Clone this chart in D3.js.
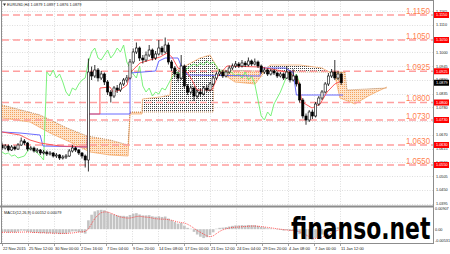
<!DOCTYPE html>
<html lang="en">
<head>
<meta charset="utf-8">
<title>EURUSD H4</title>
<script src="https://cdn.jsdelivr.net/npm/d3@7"></script>
<style>
  body{margin:0;background:#fff;}
  svg{display:block;font-family:"Liberation Sans",Arial,sans-serif;}
</style>
</head>
<body>
<div id="chart"></div>
<script>
// candles, each one = 2 H4 bars
var opens = [1.0630,1.0618,1.0626,1.0610,1.0622,1.0614,1.0630,1.0646,1.0638,1.0614,1.0618,1.0606,1.0610,1.0598,1.0602,1.0594,1.0598,1.0586,1.0590,1.0578,
  1.0582,1.0586,1.0606,1.0618,1.0610,1.0598,1.0586,1.0570,1.0922,1.0906,1.0930,1.0898,1.0914,1.0882,1.0842,1.0826,1.0858,1.0850,1.0874,1.0890,
  1.0898,1.0962,1.1002,1.1018,1.0978,1.0970,1.0990,1.1010,1.0978,1.0994,1.1018,1.1002,1.1030,1.0962,1.0938,1.0914,1.0898,1.0946,1.0866,1.0842,
  1.0858,1.0826,1.0842,1.0834,1.0858,1.0850,1.0874,1.0898,1.0914,1.0922,1.0906,1.0922,1.0938,1.0946,1.0954,1.0946,1.0958,1.0950,1.0966,1.0954,
  1.0962,1.0946,1.0922,1.0930,1.0914,1.0926,1.0918,1.0906,1.0914,1.0898,1.0922,1.0890,1.0906,1.0874,1.0810,1.0746,1.0730,1.0762,1.0746,1.0794,
  1.0818,1.0842,1.0874,1.0906,1.0922,1.0898,1.0914]
var closes = [1.0618,1.0626,1.0610,1.0622,1.0614,1.0630,1.0646,1.0638,1.0614,1.0618,1.0606,1.0610,1.0598,1.0602,1.0594,1.0598,1.0586,1.0590,1.0578,1.0582,
  1.0586,1.0606,1.0618,1.0610,1.0598,1.0586,1.0570,1.0922,1.0906,1.0930,1.0898,1.0914,1.0882,1.0842,1.0826,1.0858,1.0850,1.0874,1.0890,1.0898,
  1.0962,1.1002,1.1018,1.0978,1.0970,1.0990,1.1010,1.0978,1.0994,1.1018,1.1002,1.1030,1.0962,1.0938,1.0914,1.0898,1.0946,1.0866,1.0842,1.0858,
  1.0826,1.0842,1.0834,1.0858,1.0850,1.0874,1.0898,1.0914,1.0922,1.0906,1.0922,1.0938,1.0946,1.0954,1.0946,1.0958,1.0950,1.0966,1.0954,1.0962,
  1.0946,1.0922,1.0930,1.0914,1.0926,1.0918,1.0906,1.0914,1.0898,1.0922,1.0890,1.0906,1.0874,1.0810,1.0746,1.0730,1.0762,1.0746,1.0794,1.0818,
  1.0842,1.0874,1.0906,1.0922,1.0898,1.0914,1.0879]
var highs = [1.0640,1.0634,1.0632,1.0630,1.0628,1.0638,1.0660,1.0654,1.0642,1.0626,1.0624,1.0618,1.0614,1.0610,1.0608,1.0606,1.0602,1.0598,1.0594,1.0590,
  1.0594,1.0614,1.0630,1.0624,1.0614,1.0602,1.0592,1.0976,1.0944,1.0950,1.0938,1.0926,1.0920,1.0890,1.0850,1.0866,1.0870,1.0882,1.0898,1.0910,
  1.0974,1.1016,1.1040,1.1024,1.0990,1.1004,1.1030,1.1016,1.1006,1.1050,1.1026,1.1060,1.1040,1.0970,1.0946,1.0924,1.0990,1.0952,1.0874,1.0868,
  1.0864,1.0852,1.0856,1.0866,1.0870,1.0882,1.0906,1.0924,1.0934,1.0930,1.0930,1.0948,1.0956,1.0966,1.0962,1.0970,1.0966,1.0980,1.0972,1.0976,
  1.0968,1.0952,1.0940,1.0936,1.0934,1.0932,1.0924,1.0922,1.0920,1.0946,1.0928,1.0932,1.0912,1.0880,1.0818,1.0756,1.0770,1.0772,1.0802,1.0826,
  1.0850,1.0882,1.0918,1.0934,1.0970,1.0926,1.0920]
var lows = [1.0610,1.0612,1.0604,1.0606,1.0608,1.0610,1.0626,1.0630,1.0606,1.0608,1.0600,1.0598,1.0590,1.0592,1.0586,1.0588,1.0580,1.0578,1.0570,1.0572,
  1.0574,1.0582,1.0600,1.0602,1.0590,1.0576,1.0540,1.0524,1.0890,1.0898,1.0884,1.0890,1.0870,1.0830,1.0800,1.0818,1.0838,1.0842,1.0866,1.0880,
  1.0892,1.0954,1.0994,1.0966,1.0956,1.0962,1.0982,1.0968,1.0970,1.0988,1.0990,1.0996,1.0952,1.0926,1.0900,1.0884,1.0890,1.0856,1.0830,1.0834,
  1.0806,1.0816,1.0822,1.0828,1.0842,1.0844,1.0866,1.0890,1.0906,1.0898,1.0900,1.0914,1.0930,1.0938,1.0938,1.0940,1.0942,1.0944,1.0946,1.0948,
  1.0938,1.0914,1.0914,1.0906,1.0908,1.0910,1.0898,1.0900,1.0890,1.0894,1.0880,1.0884,1.0864,1.0800,1.0736,1.0711,1.0722,1.0734,1.0740,1.0786,
  1.0810,1.0836,1.0866,1.0898,1.0890,1.0890,1.0870]

// MACD main (histogram) and signal, one per candle
var macdMain = [-0.0014,-0.0012,-0.0016,-0.0013,-0.0015,-0.0011,-0.0006,-0.0007,-0.0012,-0.0013,-0.0016,-0.0015,-0.0018,-0.0017,-0.0019,-0.0018,-0.0020,-0.0019,-0.0022,-0.0021,
  -0.0020,-0.0015,-0.0010,-0.0010,-0.0013,-0.0016,-0.0020,0.0040,0.0065,0.0080,0.0085,0.0087,0.0085,0.0078,0.0070,0.0066,0.0062,0.0060,0.0060,0.0058,
  0.0064,0.0070,0.0072,0.0066,0.0062,0.0062,0.0063,0.0058,0.0056,0.0058,0.0055,0.0057,0.0048,0.0040,0.0032,0.0025,0.0028,0.0016,0.0006,0.0002,
  -0.0012,-0.0024,-0.0034,-0.0040,-0.0036,-0.0026,-0.0014,0.0002,0.0006,0.0007,0.0009,0.0012,0.0015,0.0017,0.0017,0.0018,0.0017,0.0019,0.0018,0.0018,
  0.0015,0.0010,0.0008,0.0004,0.0003,0.0001,-0.0002,-0.0003,-0.0006,-0.0004,-0.0008,-0.0008,-0.0012,-0.0022,-0.0036,-0.0046,-0.0046,-0.0048,-0.0040,-0.0032,
  -0.0024,-0.0014,-0.0004,0.0004,0.0005,0.0009,0.0008]
var macdSignal = [-0.0014,-0.0014,-0.0014,-0.0014,-0.0014,-0.0014,-0.0013,-0.0013,-0.0013,-0.0014,-0.0015,-0.0015,-0.0016,-0.0016,-0.0017,-0.0017,-0.0018,-0.0018,-0.0019,-0.0019,
  -0.0019,-0.0018,-0.0017,-0.0015,-0.0013,-0.0012,-0.0010,0.0000,0.0025,0.0048,0.0064,0.0074,0.0078,0.0077,0.0072,0.0066,0.0060,0.0055,0.0052,0.0050,
  0.0050,0.0053,0.0057,0.0058,0.0056,0.0054,0.0053,0.0050,0.0047,0.0046,0.0045,0.0045,0.0043,0.0040,0.0036,0.0032,0.0030,0.0028,0.0022,0.0014,
  0.0004,-0.0006,-0.0014,-0.0022,-0.0030,-0.0034,-0.0030,-0.0020,-0.0010,-0.0003,0.0002,0.0005,0.0008,0.0009,0.0010,0.0011,0.0012,0.0013,0.0014,0.0014,
  0.0013,0.0012,0.0010,0.0008,0.0006,0.0004,0.0002,0.0000,-0.0002,-0.0004,-0.0005,-0.0006,-0.0008,-0.0012,-0.0018,-0.0026,-0.0034,-0.0040,-0.0042,-0.0040,
  -0.0036,-0.0030,-0.0024,-0.0017,-0.0010,-0.0005,0.0000]

// ichimoku lines as [candle index, price] knots
var tenkan = [[0,1.0682],[5.6,1.0670],[8.75,1.0650],[11.9,1.0638],[18.1,1.0626],[26.6,1.0622],[26.9,1.0754],[30.6,1.0754],[30.6,1.0858],[33.75,1.0862],
  [34.7,1.0842],[36.9,1.0850],[39.1,1.0870],[40,1.0918],[43.1,1.0958],[46.25,1.0970],[49.4,1.0982],[51.6,1.0998],[53.1,1.0982],[55,1.0938],
  [57.8,1.0922],[59.4,1.0890],[60.9,1.0850],[65.6,1.0850],[67.5,1.0906],[70.3,1.0946],[80.6,1.0942],[85.9,1.0930],[90,1.0918],[92.5,1.0890],
  [93.75,1.0802],[96.9,1.0778],[99.4,1.0794],[101.6,1.0842],[104,1.0874],[106.6,1.0890]]
var kijun = [[0,1.0682],[5.6,1.0678],[11.9,1.0670],[12.8,1.0626],[26.6,1.0622],[26.9,1.0754],[40,1.0754],[40,1.0918],[48,1.0926],[49,1.0966],
  [51,1.0978],[55,1.0978],[56,1.0946],[58,1.0910],[80.6,1.0906],[81,1.0938],[88.5,1.0938],[91,1.0920],[92,1.0830],[106.6,1.0830]]
var spanA = [[0,1.0738],[8.75,1.0722],[15,1.0678],[21.25,1.0642],[27.5,1.0602],[33.75,1.0590],[39.4,1.0586],[40,1.0754],[43.75,1.0754],[43.9,1.0814],
  [49.4,1.0822],[52.5,1.0830],[53.1,1.0922],[57.2,1.0946],[61.9,1.0978],[65,1.0990],[66.25,1.0962],[68.1,1.0922],[72.8,1.0882],[79.1,1.0874],
  [83.75,1.0950],[93.1,1.0950],[100,1.0938],[104,1.0910],[105.6,1.0818],[110.3,1.0794],[115,1.0830],[120.3,1.0862]]
var spanB = [[0,1.0790],[11.9,1.0750],[20.3,1.0698],[26.6,1.0666],[33.75,1.0650],[39.4,1.0630],[40,1.0762],[66,1.0762],[66.25,1.0930],[93.1,1.0922],
  [107.2,1.0922],[107.8,1.0850],[120.3,1.0858]]
var chikouShift = 13

var levels = [1.1150,1.1050,1.0925,1.0800,1.0730,1.0630,1.0550]
var priceTicks = [1.1165,1.1110,1.1055,1.1000,1.0945,1.0890,1.0835,1.0780,1.0725,1.0670,1.0615,1.0560,1.0505,1.0450,1.0395]
var lastPrice = 1.0879
var macdTicks = ["0.00907","0.00","-0.00531"]
var macdTickValues = [0.00907,0,-0.00531]
var timeLabels = ["22 Nov 2015","25 Nov 12:00","30 Nov 00:00","2 Dec 16:00","7 Dec 04:00","9 Dec 20:00","14 Dec 08:00",
  "17 Dec 00:00","21 Dec 12:00","24 Dec 04:00","29 Dec 20:00","4 Jan 08:00","7 Jan 00:00","11 Jan 12:00"]
var barsPerLabel = 8.125

var W = 450, H = 254
var left = 2, right = 433, mainTop = 1, mainBottom = 205, macdTop = 208, macdBottom = 243

var x = d3.scaleLinear().domain([0,(right-left)/3.2]).range([left,right])
var y = d3.scaleLinear().domain([1.1210,1.0390]).range([0,205])
var ym = d3.scaleLinear().domain([-0.00531,0.00907]).range([241,209])

var svg = d3.select("#chart").append("svg").attr("width",W).attr("height",H)
svg.append("rect").attr("width",W).attr("height",H).attr("fill","#fff")

var defs = svg.append("defs")
defs.append("clipPath").attr("id","mainClip").append("rect")
  .attr("x",left).attr("y",mainTop).attr("width",right-left).attr("height",mainBottom-mainTop)
defs.append("clipPath").attr("id","macdClip").append("rect")
  .attr("x",left).attr("y",macdTop).attr("width",right-left).attr("height",macdBottom-macdTop)

var orangePat = defs.append("pattern").attr("id","orangeDots").attr("patternUnits","userSpaceOnUse").attr("width",2).attr("height",2)
orangePat.append("rect").attr("width",2).attr("height",2).attr("fill","#fde4cc")
orangePat.append("rect").attr("width",1).attr("height",1).attr("fill","#f4a460")
var blackPat = defs.append("pattern").attr("id","blackHatch").attr("patternUnits","userSpaceOnUse").attr("width",2).attr("height",2)
blackPat.append("rect").attr("width",1).attr("height",1).attr("fill","#444")

var line = d3.line().x(function(d){return x(d[0])}).y(function(d){return y(d[1])})
var b0 = spanB[0][0], b1 = spanB[spanB.length-1][0]
defs.append("clipPath").attr("id","aboveB").append("path")
  .attr("d",line(spanB.concat([[b1,1.1210],[b0,1.1210]]))+"Z")
defs.append("clipPath").attr("id","belowB").append("path")
  .attr("d",line(spanB.concat([[b1,1.0390],[b0,1.0390]]))+"Z")

// grid
var tickIdx = timeLabels.map(function(d,i){return i*barsPerLabel})
var grid = svg.append("g").attr("stroke","#c8c8c8").attr("stroke-width",0.6).attr("stroke-dasharray","1,1.5")
grid.selectAll(".vg").data(tickIdx).enter().append("line")
  .attr("x1",function(d){return x(d)+0.5}).attr("x2",function(d){return x(d)+0.5})
  .attr("y1",mainTop).attr("y2",macdBottom)
grid.selectAll(".hg").data(priceTicks).enter().append("line")
  .attr("x1",left).attr("x2",right)
  .attr("y1",function(d){return Math.round(y(d))+0.5}).attr("y2",function(d){return Math.round(y(d))+0.5})

var main = svg.append("g").attr("clip-path","url(#mainClip)")

// cloud
var between = line(spanA.concat(spanB.slice().reverse()))+"Z"
main.append("g").attr("clip-path","url(#aboveB)").append("path").attr("d",between).attr("fill","url(#blackHatch)")
main.append("g").attr("clip-path","url(#belowB)").append("path").attr("d",between).attr("fill","url(#orangeDots)")
main.append("path").attr("d",line(spanA)).attr("fill","none").attr("stroke","#f4a460").attr("stroke-width",0.7)
main.append("path").attr("d",line(spanB)).attr("fill","none").attr("stroke","#b8733a").attr("stroke-width",0.8).attr("stroke-dasharray","1,1")

// level lines
main.selectAll(".lvl").data(levels).enter().append("line")
  .attr("x1",left).attr("x2",right)
  .attr("y1",function(d){return y(d)}).attr("y2",function(d){return y(d)})
  .attr("stroke","#ff9f9f").attr("stroke-width",1.4).attr("stroke-dasharray","7,4")

// chikou, kijun, tenkan
var chikou = closes.map(function(c,i){return [i-chikouShift,c]})
main.append("path").attr("d",line(chikou)).attr("fill","none").attr("stroke","#6cf06c").attr("stroke-width",0.9)
main.append("path").attr("d",line(kijun)).attr("fill","none").attr("stroke","#5a5aff").attr("stroke-width",0.9)
main.append("path").attr("d",line(tenkan)).attr("fill","none").attr("stroke","#ff4a4a").attr("stroke-width",0.9)

// candles
var candles = main.selectAll(".candle").data(closes).enter().append("g")
candles.append("line")
  .attr("x1",function(d,i){return x(i)}).attr("x2",function(d,i){return x(i)})
  .attr("y1",function(d,i){return y(highs[i])}).attr("y2",function(d,i){return y(lows[i])})
  .attr("stroke","#000").attr("stroke-width",0.8)
candles.append("rect")
  .attr("x",function(d,i){return x(i)-1.1}).attr("width",2.2)
  .attr("y",function(d,i){return y(Math.max(opens[i],d))})
  .attr("height",function(d,i){return Math.max(0.8,Math.abs(y(opens[i])-y(d)))})
  .attr("fill",function(d,i){return d>=opens[i]?"#fff":"#000"})
  .attr("stroke","#000").attr("stroke-width",0.6)

// level labels
svg.selectAll(".lvlLabel").data(levels).enter().append("text")
  .attr("x",430).attr("y",function(d){return y(d)-1.5})
  .attr("text-anchor","end").attr("font-size",9.5).attr("fill","#ff7f50")
  .attr("textLength",24).attr("lengthAdjust","spacingAndGlyphs")
  .text(function(d){return d.toFixed(4)})

// MACD
var macd = svg.append("g").attr("clip-path","url(#macdClip)")
macd.selectAll(".hist").data(macdMain).enter().append("rect")
  .attr("x",function(d,i){return x(i)-1.3}).attr("width",2.6)
  .attr("y",function(d){return Math.min(ym(d),ym(0))})
  .attr("height",function(d){return Math.abs(ym(d)-ym(0))})
  .attr("fill","#c4c4c4")
macd.append("path")
  .attr("d",d3.line().x(function(d,i){return x(i)}).y(function(d){return ym(d)})(macdSignal))
  .attr("fill","none").attr("stroke","#ff3030").attr("stroke-width",0.8).attr("stroke-dasharray","1,1")

// frames
svg.append("line").attr("x1",0).attr("x2",right).attr("y1",206.5).attr("y2",206.5).attr("stroke","#8c8c8c").attr("stroke-width",2)
svg.append("line").attr("x1",0).attr("x2",right).attr("y1",243.5).attr("y2",243.5).attr("stroke","#8c8c8c").attr("stroke-width",1)
svg.append("line").attr("x1",0).attr("x2",right).attr("y1",0.5).attr("y2",0.5).attr("stroke","#8c8c8c").attr("stroke-width",1)
svg.append("line").attr("x1",right+0.5).attr("x2",right+0.5).attr("y1",0).attr("y2",244).attr("stroke","#8c8c8c").attr("stroke-width",1)
svg.append("line").attr("x1",1.5).attr("x2",1.5).attr("y1",0).attr("y2",244).attr("stroke","#8c8c8c").attr("stroke-width",1)

// right axis
var axisG = svg.append("g").attr("font-size",3.8).attr("fill","#222")
axisG.selectAll(".pt").data(priceTicks).enter().append("text")
  .attr("x",436).attr("y",function(d){return y(d)+1.4}).text(function(d){return d.toFixed(4)})
axisG.selectAll(".mt").data(macdTicks).enter().append("text")
  .attr("x",435).attr("y",function(d,i){return ym(macdTickValues[i])+1.4}).text(function(d){return d})

var tags = svg.selectAll(".tag").data(levels).enter().append("g")
tags.append("rect").attr("x",434).attr("width",15).attr("y",function(d){return y(d)-3}).attr("height",6).attr("fill","#f00")
tags.append("text").attr("x",436).attr("y",function(d){return y(d)+1.4}).attr("font-size",3.8).attr("fill","#fff")
  .text(function(d){return d.toFixed(4)})
svg.append("rect").attr("x",434).attr("width",15).attr("y",y(lastPrice)-3).attr("height",6).attr("fill","#000")
svg.append("text").attr("x",436).attr("y",y(lastPrice)+1.4).attr("font-size",3.8).attr("fill","#fff").text(lastPrice.toFixed(4))

// time axis
svg.selectAll(".tl").data(timeLabels).enter().append("text")
  .attr("x",function(d,i){return x(tickIdx[i])+1}).attr("y",249.5)
  .attr("font-size",4).attr("fill","#222").text(function(d){return d})
svg.selectAll(".tt").data(tickIdx).enter().append("line")
  .attr("x1",function(d){return x(d)+0.5}).attr("x2",function(d){return x(d)+0.5})
  .attr("y1",244).attr("y2",246).attr("stroke","#666").attr("stroke-width",0.6)

// titles
svg.append("path").attr("d","M3,3.5L6,3.5L4.5,6Z").attr("fill","#333")
svg.append("text").attr("x",7).attr("y",6).attr("font-size",3.9).attr("fill","#222")
  .text("EURUSD,H4  1.0879 1.0897 1.0876 1.0879")
svg.append("text").attr("x",4).attr("y",214).attr("font-size",3.9).attr("fill","#222")
  .text("MACD(12,26,9) 0.00152 0.00079")

// watermark, squeezed horizontally like the original
svg.append("text").attr("transform","translate(291,239) scale(0.73,1)")
  .attr("font-family","'DejaVu Sans',sans-serif")
  .attr("font-size",30).attr("font-weight","bold").attr("fill","#000")
  .text("finanso.net")
</script>
</body>
</html>
